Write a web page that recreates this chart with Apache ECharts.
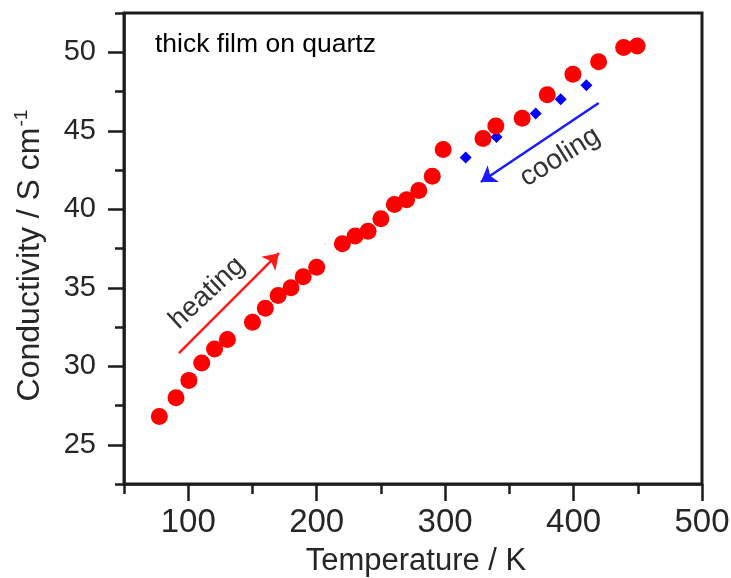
<!DOCTYPE html>
<html>
<head>
<meta charset="utf-8">
<script src="https://cdn.jsdelivr.net/npm/echarts@6/dist/echarts.min.js"></script>
<style>
html,body{margin:0;padding:0;background:#fff;}
#c{width:731px;height:578px;}
</style>
</head>
<body>
<div id="c"></div>
<script>
// ---- data ----
const heatingT = [77.5, 90.5, 100.5, 110.5, 120.5, 130.5, 150, 160, 170, 180, 189.5, 200, 220, 230, 240, 250, 260.5, 270, 279.5, 290, 298.5, 329.5, 339.5, 360, 379.5, 399.5, 419.5, 439, 449.5];
const heatingSigma = [26.8, 28.0, 29.1, 30.2, 31.1, 31.7, 32.8, 33.7, 34.5, 35.0, 35.7, 36.3, 37.8, 38.3, 38.6, 39.4, 40.3, 40.6, 41.2, 42.1, 43.8, 44.5, 45.3, 45.8, 47.3, 48.6, 49.4, 50.3, 50.4];
const coolingT = [316, 340, 370.5, 390, 410];
const coolingSigma = [43.3, 44.6, 46.1, 47.0, 47.9];

const xRange = [50, 500];
const yRange = [22.5, 52.5];
const xMajor = [100, 500, 100];   // min, max, interval of labelled ticks
const yMajor = [25, 50, 5];
const xTitle = 'Temperature / K';
const yTitle = 'Conductivity / S cm';
const yTitleSup = '-1';
const sampleNote = 'thick film on quartz';
const heatingLabel = 'heating';
const coolingLabel = 'cooling';

// ---- layout ----
const FONT = '"Liberation Sans", Arial, Helvetica, sans-serif';
const NARROW = '"Liberation Sans Narrow", "Arial Narrow", "Liberation Sans", sans-serif';
const AX = '#1c1c1c';
const L = 124, R = 29, T = 13, B = 94;
const W = 731 - L - R, H = 578 - T - B;
const ySpan = (yRange[1] - yRange[0]);
const xSpan = (xRange[1] - xRange[0]);

const chart = echarts.init(document.getElementById('c'), null, {renderer: 'canvas'});

const axisLineStyle = {color: AX, width: 2.5};

const option = {
  animation: false,
  backgroundColor: '#fff',
  grid: [
    {left: L, right: R, top: T, bottom: B, show: true, borderColor: AX, borderWidth: 3,
     backgroundColor: 'transparent', containLabel: false, outerBoundsMode: 'none'},
    {left: L, right: R,
     top: T + (yRange[1] - yMajor[1]) / ySpan * H,
     bottom: B + (yMajor[0] - yRange[0]) / ySpan * H, show: false,
     containLabel: false, outerBoundsMode: 'none'},
    {left: L + (xMajor[0] - xRange[0]) / xSpan * W,
     right: R + (xRange[1] - xMajor[1]) / xSpan * W,
     top: T, bottom: B, show: false, containLabel: false, outerBoundsMode: 'none'}
  ],
  xAxis: [
    {gridIndex: 0, type: 'value', min: xRange[0], max: xRange[1], interval: 50,
     axisLine: {show: true, onZero: false, lineStyle: axisLineStyle},
     axisTick: {show: true, length: 10, lineStyle: axisLineStyle},
     axisLabel: {show: false}, splitLine: {show: false},
     name: xTitle, nameLocation: 'middle', nameGap: 62,
     nameTextStyle: {fontFamily: FONT, fontSize: 31, color: '#262626', padding: [0, 0, 0, 6]}},
    {gridIndex: 1, type: 'value', show: false, min: xRange[0], max: xRange[1]},
    {gridIndex: 2, type: 'value', min: xMajor[0], max: xMajor[1], interval: xMajor[2],
     axisLine: {show: false},
     axisTick: {show: true, length: 17, lineStyle: axisLineStyle},
     axisLabel: {show: true, fontFamily: NARROW, fontSize: 33, color: '#262626', margin: 22},
     splitLine: {show: false}}
  ],
  yAxis: [
    {gridIndex: 0, type: 'value', min: yRange[0], max: yRange[1], interval: 2.5,
     axisLine: {show: true, onZero: false, lineStyle: axisLineStyle},
     axisTick: {show: true, length: 9, lineStyle: axisLineStyle},
     axisLabel: {show: false}, splitLine: {show: false},
     name: '{m|' + yTitle + '}{s|' + yTitleSup + '}', nameLocation: 'middle', nameGap: 76,
     nameTextStyle: {fontFamily: FONT, fontSize: 32, color: '#262626', padding: [0, 14, 0, 0],
       rich: {
         m: {fontFamily: FONT, fontSize: 32, color: '#262626', lineHeight: 36},
         s: {fontFamily: FONT, fontSize: 19, color: '#262626', verticalAlign: 'top', lineHeight: 16, padding: [0, 0, 13, 1]}
       }}},
    {gridIndex: 1, type: 'value', min: yMajor[0], max: yMajor[1], interval: yMajor[2],
     axisLine: {show: false},
     axisTick: {show: true, length: 16, lineStyle: axisLineStyle},
     axisLabel: {show: true, fontFamily: FONT, fontSize: 29, color: '#262626', margin: 28},
     splitLine: {show: false}},
    {gridIndex: 2, type: 'value', show: false, min: yRange[0], max: yRange[1]}
  ],
  series: [
    {
      name: 'cooling', type: 'scatter', xAxisIndex: 0, yAxisIndex: 0, z: 2,
      data: coolingT.map((t, i) => [t, coolingSigma[i]]),
      symbol: 'diamond', symbolSize: 12,
      itemStyle: {color: '#0000ff', opacity: 1},
      markLine: {
        silent: true, animation: false, symbol: ['none', 'arrow'], symbolSize: 15,
        label: {show: false},
        lineStyle: {color: '#1a1aff', width: 2.5, type: 'solid'},
        data: [[{coord: [419.6, 46.77]}, {coord: [327.8, 41.74]}]]
      }
    },
    {
      name: 'heating', type: 'scatter', xAxisIndex: 0, yAxisIndex: 0, z: 3,
      data: heatingT.map((t, i) => [t, heatingSigma[i]]),
      symbol: 'circle', symbolSize: 17,
      itemStyle: {color: '#ff0000', opacity: 1},
      markLine: {
        silent: true, animation: false, symbol: ['none', 'arrow'], symbolSize: 15,
        label: {show: false},
        lineStyle: {color: '#ff1a1a', width: 2.5, type: 'solid'},
        data: [[{coord: [92.8, 30.84]}, {coord: [170.6, 37.2]}]]
      }
    }
  ],
  graphic: [
    {type: 'text', x: 155, y: 31, z: 10,
     style: {text: sampleNote, fill: '#000', font: '26.5px ' + FONT}},
    {type: 'text', x: 207, y: 293, rotation: 43 * Math.PI / 180, z: 10,
     style: {text: heatingLabel, fill: '#333', font: '28px ' + FONT, align: 'center', verticalAlign: 'middle'}},
    {type: 'text', x: 560, y: 157, rotation: 32 * Math.PI / 180, z: 10,
     style: {text: coolingLabel, fill: '#333', font: '28px ' + FONT, align: 'center', verticalAlign: 'middle'}}
  ]
};
chart.setOption(option);
</script>
</body>
</html>
